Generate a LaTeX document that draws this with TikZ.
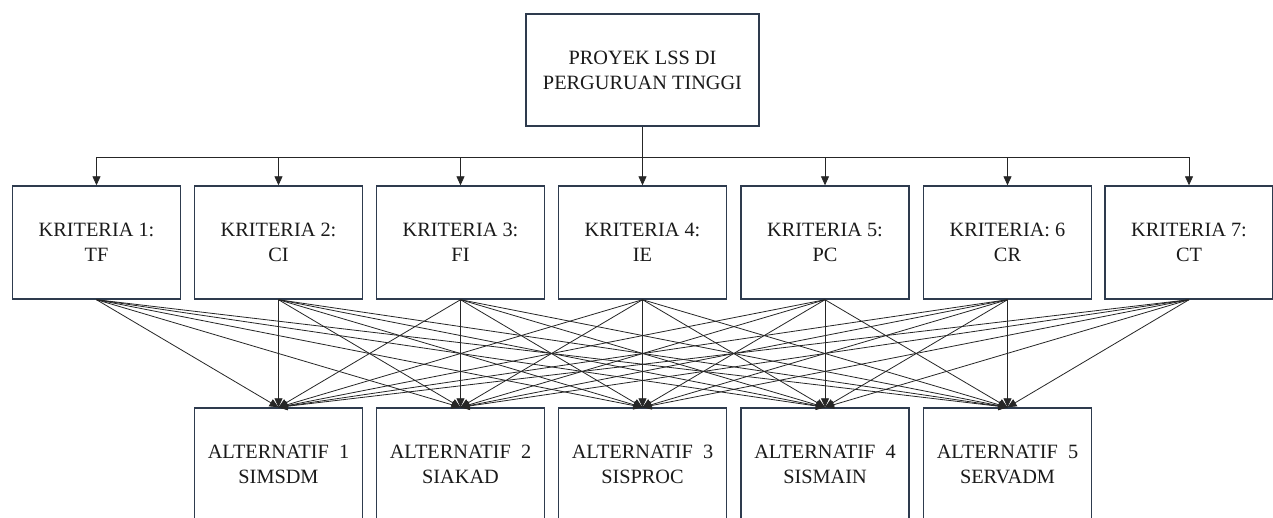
\documentclass[tikz,border=0pt]{standalone}
\usepackage{fontspec}
\setmainfont{Liberation Serif}
\usetikzlibrary{arrows.meta}
\definecolor{boxline}{HTML}{2E3B4E}
\definecolor{txt}{HTML}{1A1A1A}
\begin{document}
\begin{tikzpicture}[x=1pt,y=-1pt,
  box/.style={draw=boxline,line width=1.4pt,fill=white,inner sep=0pt,align=center,
    text=txt,font=\fontsize{20.3}{25}\selectfont},
  topbox/.style={box,minimum width=233pt,minimum height=112pt},
  critbox/.style={box,minimum width=168pt,minimum height=113pt},
  altbox/.style={box,minimum width=168pt,minimum height=113pt},
  conn/.style={draw=black!85,line width=0.8pt,-{Triangle[length=9pt,width=8pt]}}]
\useasboundingbox (0,0) rectangle (1273,517);
\fill[white] (0,0) rectangle (1273,517);
\node[topbox] (top) at (642.5,70) {PROYEK LSS DI\\PERGURUAN TINGGI};
\coordinate (j) at (642.5,157);
\node[critbox] (k1) at (96.5,242.5) {KRITERIA 1:\\TF};
\node[critbox] (k2) at (278.5,242.5) {KRITERIA 2:\\CI};
\node[critbox] (k3) at (460.5,242.5) {KRITERIA 3:\\FI};
\node[critbox] (k4) at (642.5,242.5) {KRITERIA 4:\\IE};
\node[critbox] (k5) at (825,242.5) {KRITERIA 5:\\PC};
\node[critbox] (k6) at (1007.5,242.5) {KRITERIA: 6\\CR};
\node[critbox] (k7) at (1189,242.5) {KRITERIA 7:\\CT};
\node[altbox] (a1) at (278.5,464.5) {ALTERNATIF\ \ 1\\SIMSDM};
\node[altbox] (a2) at (460.5,464.5) {ALTERNATIF\ \ 2\\SIAKAD};
\node[altbox] (a3) at (642.5,464.5) {ALTERNATIF\ \ 3\\SISPROC};
\node[altbox] (a4) at (825,464.5) {ALTERNATIF\ \ 4\\SISMAIN};
\node[altbox] (a5) at (1007.5,464.5) {ALTERNATIF\ \ 5\\SERVADM};
\draw[draw=black!85,line width=0.8pt] (top.south) -- (j);
\foreach \i in {1,...,7}{
  \draw[conn] (j) -| (k\i.north);
}
\foreach \i in {1,...,7}{
  \foreach \k in {1,...,5}{
    \draw[conn] (k\i.south) -- (a\k.north);
  }
}
\end{tikzpicture}
\end{document}
